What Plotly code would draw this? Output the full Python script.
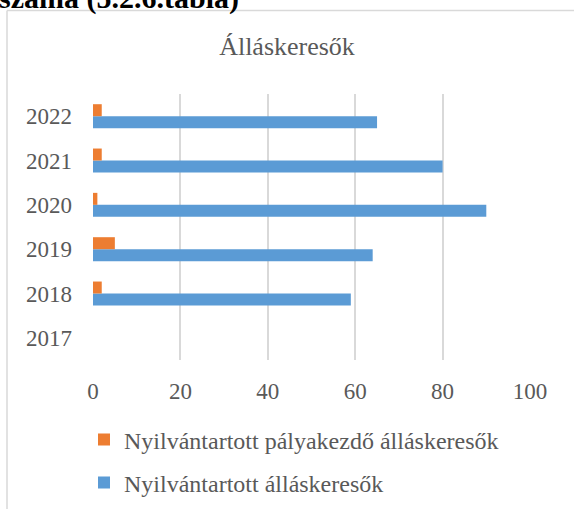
import plotly.graph_objects as go

years = ["2017", "2018", "2019", "2020", "2021", "2022"]
allaskeresok = [None, 59, 64, 90, 80, 65]
palyakezdo = [None, 2, 5, 1, 2, 2]
x_ticks = [0, 20, 40, 60, 80, 100]

W, H = 574, 509
L, R, T, B = 93, 44, 94, 149
pw, ph = W - L - R, H - T - B

def px_x(p):
    return (p - L) / pw

def px_y(p):
    return 1 + (T - p) / ph

FONT = "Times New Roman, Liberation Serif, DejaVu Serif, serif"
GRAY = "#595959"

fig = go.Figure()
fig.add_trace(go.Bar(
    y=years, x=allaskeresok, orientation="h",
    name="Nyilvántartott álláskeresők",
    marker=dict(color="#5B9BD5", line=dict(width=0)),
    legend="legend2",
))
fig.add_trace(go.Bar(
    y=years, x=palyakezdo, orientation="h",
    name="Nyilvántartott pályakezdő álláskeresők",
    marker=dict(color="#ED7D31", line=dict(width=0)),
    legend="legend",
))

fig.update_layout(
    width=W, height=H,
    margin=dict(l=L, r=R, t=T, b=B, autoexpand=False),
    paper_bgcolor="white", plot_bgcolor="white",
    barmode="group", bargap=0.46, bargroupgap=0,
    font=dict(family=FONT, color=GRAY, size=23),
    title=dict(text="Álláskeresők", x=0.5, xref="container", xanchor="center",
               y=1 - 46 / H, yref="container", yanchor="middle",
               font=dict(family=FONT, size=26, color=GRAY)),
    xaxis=dict(range=[0, 100], tickvals=x_ticks, showgrid=True, gridcolor="#D9D9D9",
               gridwidth=1.5, zeroline=False, showline=False, ticks="", automargin=False,
               tickfont=dict(family=FONT, size=23, color=GRAY), ticklabelstandoff=15),
    yaxis=dict(type="category", categoryorder="array", categoryarray=years,
               showgrid=False, zeroline=False, showline=False, ticks="", automargin=False,
               tickfont=dict(family=FONT, size=23, color=GRAY), ticklabelstandoff=20),
    legend=dict(x=px_x(84), y=px_y(440), xanchor="left", yanchor="middle",
                font=dict(family=FONT, size=24, color=GRAY), bgcolor="rgba(0,0,0,0)"),
    legend2=dict(x=px_x(84), y=px_y(483), xanchor="left", yanchor="middle",
                 font=dict(family=FONT, size=24, color=GRAY), bgcolor="rgba(0,0,0,0)"),
    showlegend=True,
)

fig.add_annotation(text="<b>száma (5.2.6.tábla)</b>", xref="paper", yref="paper",
                   x=px_x(-3), y=px_y(17), xanchor="left", yanchor="bottom",
                   showarrow=False, font=dict(family=FONT, size=30, color="black"))

fig.add_shape(type="line", xref="paper", yref="paper",
              x0=px_x(7), x1=px_x(7), y0=px_y(10.5), y1=px_y(520),
              line=dict(color="#D9D9D9", width=1.5))
fig.add_shape(type="line", xref="paper", yref="paper",
              x0=px_x(7), x1=px_x(580), y0=px_y(10.5), y1=px_y(10.5),
              line=dict(color="#D9D9D9", width=1.5))

fig.write_html("out.html", config={"displayModeBar": False},
               post_script="document.body.style.margin='0';")
